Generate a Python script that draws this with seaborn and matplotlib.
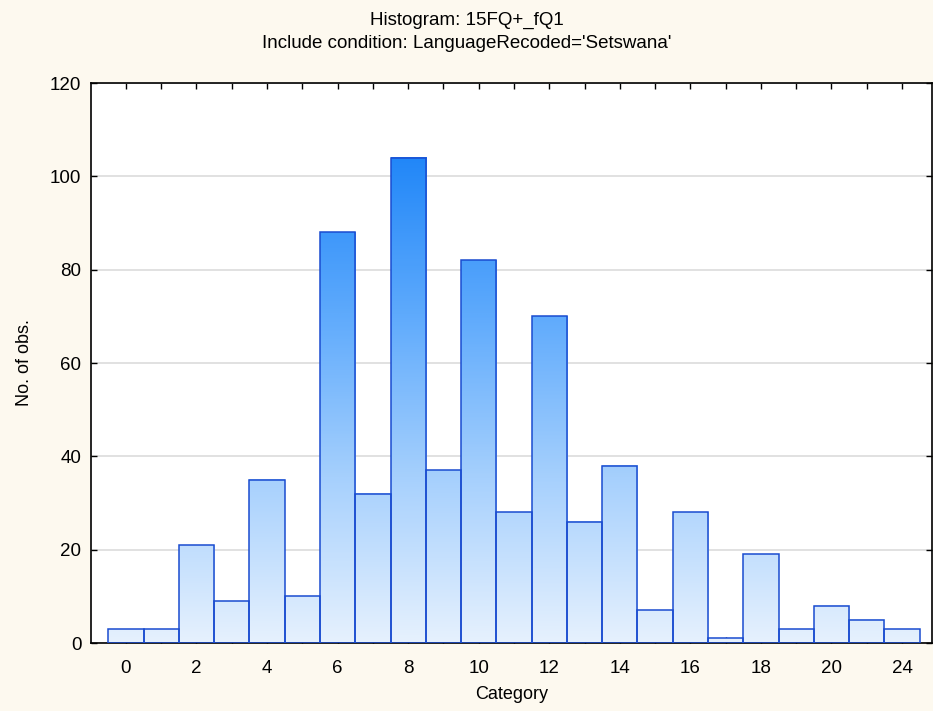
import matplotlib
matplotlib.use("Agg")
import matplotlib.pyplot as plt
from matplotlib.colors import LinearSegmentedColormap
import numpy as np
import pandas as pd
import seaborn as sns

# Data
categories = list(range(23))
counts = [3, 3, 21, 9, 35, 10, 88, 32, 104, 37, 82, 28, 70, 26, 38, 7, 28, 1, 19, 3, 8, 5, 3]
tick_labels = ["0", "", "2", "", "4", "", "6", "", "8", "", "10", "", "12", "",
               "14", "", "16", "", "18", "", "20", "", "24"]
y_ticks = [0, 20, 40, 60, 80, 100, 120]

df = pd.DataFrame({"category": categories, "count": counts})

sns.set_style("white")
plt.rcParams["font.family"] = ["Liberation Sans", "DejaVu Sans"]
plt.rcParams["text.color"] = "black"
plt.rcParams["axes.labelcolor"] = "black"
plt.rcParams["xtick.color"] = "black"
plt.rcParams["ytick.color"] = "black"

bg = "#fdf9ef"
fig = plt.figure(figsize=(9.33, 7.11), dpi=100, facecolor=bg)
ax = fig.add_axes([91 / 933, 68 / 711, 841 / 933, 560 / 711])
ax.set_facecolor("white")

sns.barplot(data=df, x="category", y="count", width=1.0, color="white",
            edgecolor="#1a4cd0", linewidth=1.1, ax=ax, zorder=3)

# Vertical gradient fill, colour tied to absolute height
cmap = LinearSegmentedColormap.from_list("blu", ["#e6f1fe", "#a6d0fd", "#5eaafc", "#1e85f8"])
for p in ax.patches:
    x0 = p.get_x()
    w = p.get_width()
    h = p.get_height()
    grad = np.linspace(0, h, 256).reshape(-1, 1)
    ax.imshow(grad, extent=[x0, x0 + w, 0, h], origin="lower", aspect="auto",
              cmap=cmap, vmin=0, vmax=106, zorder=2)
    p.set_facecolor("none")

ax.set_xlim(-0.99, 22.85)
ax.set_ylim(0, 120)
ax.set_xticks(categories)
ax.set_xticklabels(tick_labels)
ax.set_yticks(y_ticks)
ax.yaxis.grid(True, color="#dcdcdc", linewidth=1.2, zorder=1)
ax.set_axisbelow(True)
ax.tick_params(axis="both", direction="in", length=4, width=1, color="black",
               labelcolor="black", labelsize=13.5, top=True, right=True,
               bottom=True, left=True, pad=7)
ax.tick_params(axis="x", pad=12)
for s in ax.spines.values():
    s.set_color("black")
    s.set_linewidth(1.2)
    s.set_visible(True)

ax.set_xlabel("Category", fontsize=13, labelpad=7)
ax.set_ylabel("No. of obs.", fontsize=13, labelpad=12)

fig.text(0.5005, 1 - 20 / 711, "Histogram: 15FQ+_fQ1", ha="center", va="center", fontsize=13.5)
fig.text(0.5005, 1 - 43 / 711, "Include condition: LanguageRecoded='Setswana'",
         ha="center", va="center", fontsize=13.5)

fig.savefig("out.png", dpi=100, facecolor=bg)
